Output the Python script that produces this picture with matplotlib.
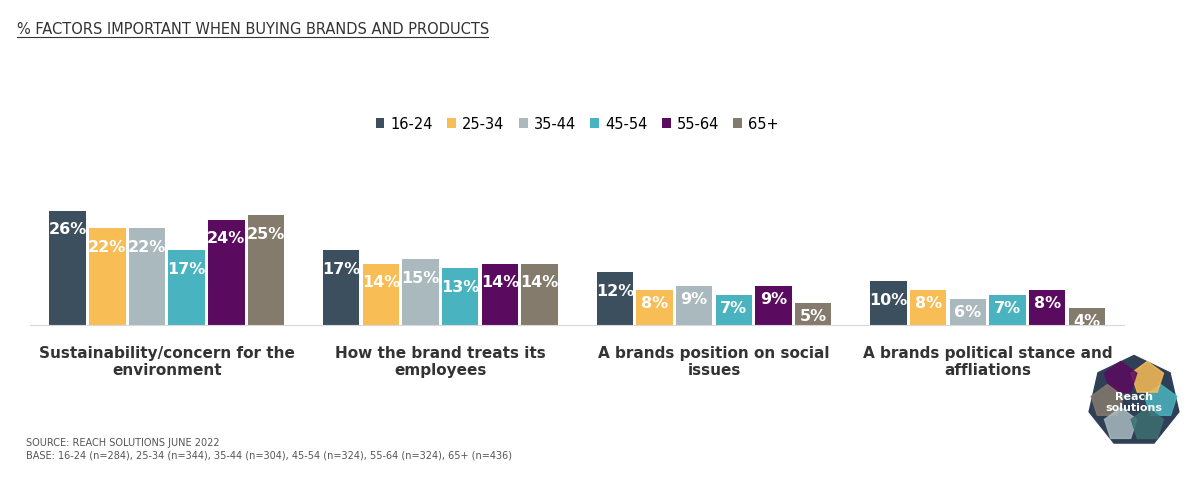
import matplotlib
matplotlib.use("Agg")
import matplotlib.pyplot as plt
import numpy as np
from matplotlib.patches import RegularPolygon

categories = ["Sustainability/concern for the\nenvironment", "How the brand treats its\nemployees",
              "A brands position on social\nissues", "A brands political stance and\naffliations"]
series = ["16-24", "25-34", "35-44", "45-54", "55-64", "65+"]
values = [[26, 17, 12, 10], [22, 14, 8, 8], [22, 15, 9, 6], [17, 13, 7, 7], [24, 14, 9, 8], [25, 14, 5, 4]]
colors = ["#3c4f5f", "#f9bd55", "#a9b9be", "#49b4bf", "#5b0b5f", "#857b6d"]

fig = plt.figure(figsize=(12, 4.85), dpi=100)
ax = fig.add_axes([0.025, 0.327, 0.912, 0.241])
n = len(series)
w = 0.145
x = np.arange(len(categories))
for i, (s, v, c) in enumerate(zip(series, values, colors)):
    pos = x + (i - (n - 1) / 2) * w
    bars = ax.bar(pos, v, width=w * 0.92, color=c, label=s)
    for b, val in zip(bars, v):
        off = -13 if val >= 10 else -9
        ax.annotate(f"{val}%", (b.get_x() + b.get_width() / 2, val), xytext=(0, off),
                    textcoords="offset points", ha="center", va="center",
                    color="white", fontsize=11.5, fontweight="bold", clip_on=True)
ax.set_xlim(-0.5, 3.5)
ax.set_ylim(0, 26.5)
for sp in ["top", "right", "left"]:
    ax.spines[sp].set_visible(False)
ax.spines["bottom"].set_color("#d9d9d9")
ax.set_yticks([])
ax.set_xticks(x)
ax.set_xticklabels(categories, fontsize=11, fontweight="bold", color="#333333")
ax.tick_params(axis="x", length=0, pad=14)
ax.legend(loc="lower center", bbox_to_anchor=(0.5, 1.55), ncol=6, frameon=False,
          fontsize=10.5, handlelength=0.6, handleheight=0.6, columnspacing=1.0, handletextpad=0.4)

fig.text(0.014, 0.94, "% FACTORS IMPORTANT WHEN BUYING BRANDS AND PRODUCTS", fontsize=10.5,
         color="#333333", va="center")
fig.add_artist(plt.Line2D([0.014, 0.407], [0.922, 0.922], color="#333333", lw=0.8))
fig.text(0.022, 0.05, "SOURCE: REACH SOLUTIONS JUNE 2022\nBASE: 16-24 (n=284), 25-34 (n=344), 35-44 (n=304), 45-54 (n=324), 55-64 (n=324), 65+ (n=436)",
         fontsize=7, color="#555555", va="bottom", linespacing=1.4)

lax = fig.add_axes([0.895, 0.07, 0.1, 0.2])
lax.set_xlim(-1, 1); lax.set_ylim(-1, 1); lax.set_aspect("equal"); lax.axis("off")
lax.add_patch(RegularPolygon((0, 0), 7, radius=0.95, color="#2f3f55"))
for ang, col in zip(np.linspace(0, 2 * np.pi, 7)[:-1], ["#49b4bf", "#f9bd55", "#5b0b5f", "#857b6d", "#a9b9be", "#3c6f6f"]):
    lax.add_patch(RegularPolygon((0.55 * np.cos(ang), 0.55 * np.sin(ang)), 5, radius=0.35, color=col, alpha=0.85))
lax.text(0, 0, "Reach\nsolutions", ha="center", va="center", color="white", fontsize=8, fontweight="bold")

fig.savefig("out.png", dpi=100)
